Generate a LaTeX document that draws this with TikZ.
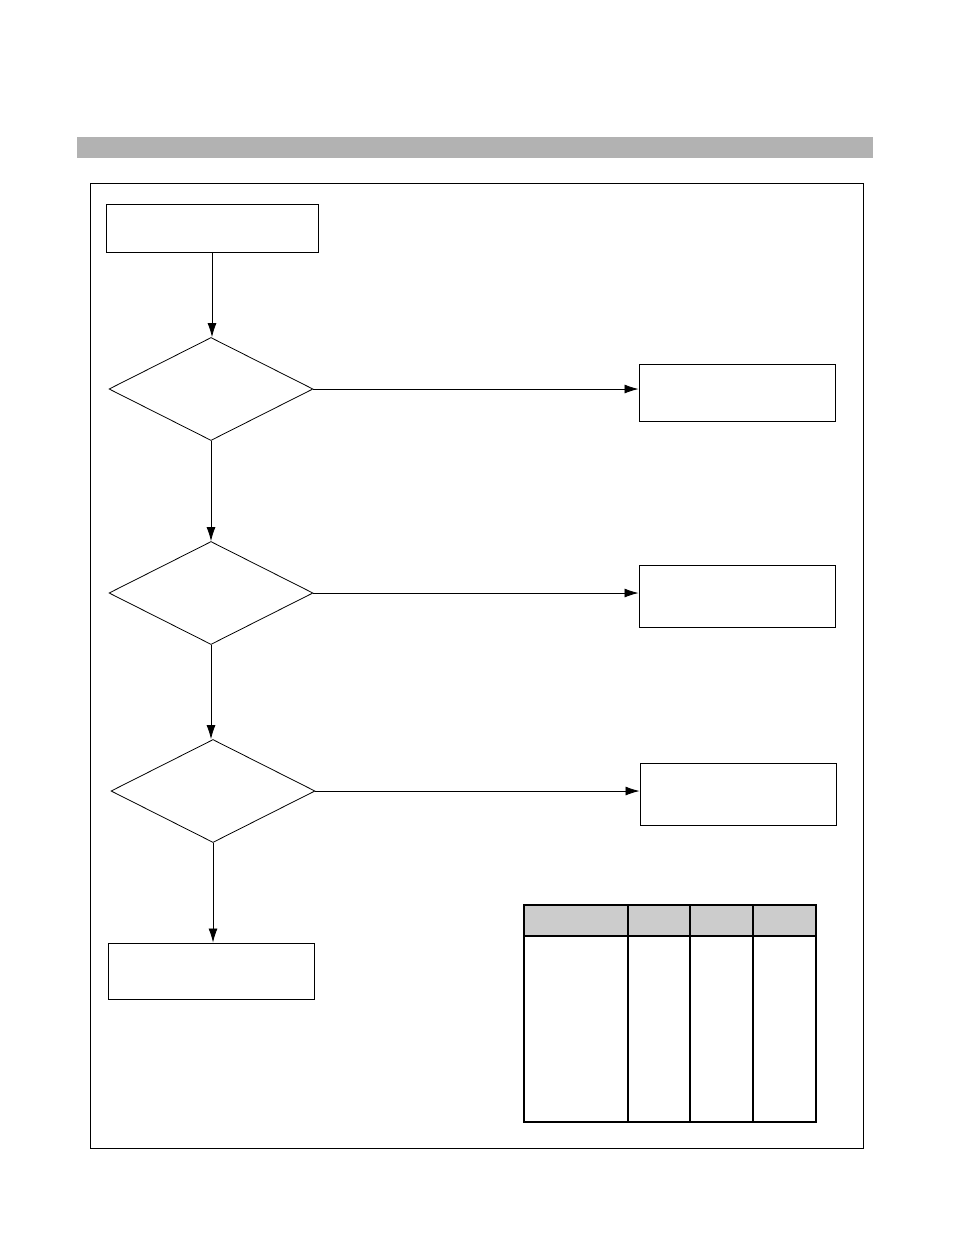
\documentclass[tikz,border=0pt]{standalone}
\usepackage{tikz}
\usetikzlibrary{shapes.geometric,arrows.meta}
\def\pxu{0.0265cm}
\tikzset{
	box/.style={draw, rectangle, inner sep=0pt, line width=0.75pt},
	check/.style={draw, diamond, inner sep=0pt, line width=0.6pt, minimum width=204*\pxu, minimum height=103*\pxu},
	flow/.style={line width=0.6pt, -{Latex[length=14*\pxu, width=9*\pxu]}}
}
\begin{document}
\begin{tikzpicture}[x=0.0265cm, y=-0.0265cm]
			%%%%% START %%%%%
			
			\useasboundingbox (0, 0) rectangle (954, 1235);
			
			\fill[black!30] (77, 137) rectangle (873, 158);
			\draw[line width=0.7pt] (90, 183) rectangle (863, 1148);
			
			\node[box, minimum width=212*\pxu, minimum height=48*\pxu] (start) at (212, 228) {};
			
			\node[check] (d1) at (211, 389) {};
			\node[check] (d2) at (211, 593) {};
			\node[check] (d3) at (213, 791) {};
			
			\node[box, minimum width=196*\pxu, minimum height=57*\pxu] (r1) at (737, 392.5) {};
			\node[box, minimum width=196*\pxu, minimum height=62*\pxu] (r2) at (737, 596) {};
			\node[box, minimum width=196*\pxu, minimum height=62*\pxu] (r3) at (738, 794) {};
			
			\node[box, minimum width=206*\pxu, minimum height=56*\pxu] (stop) at (211, 971) {};
			
			\draw[flow] (start.south) -- (start.south |- d1.north);
			\draw[flow] (d1.south) -- (d2.north);
			\draw[flow] (d2.south) -- (d2.south |- d3.north);
			\draw[flow] (d3.south) -- (d3.south |- stop.north);
			
			\draw[flow] (d1.east) -- (d1.east -| r1.west);
			\draw[flow] (d2.east) -- (d2.east -| r2.west);
			\draw[flow] (d3.east) -- (d3.east -| r3.west);
			
			% table
			\fill[black!20] (524, 905) rectangle (816, 936);
			\draw[line width=0.9pt] (524, 905) rectangle (816, 1122);
			\draw[line width=0.9pt] (524, 936) -- (816, 936);
			\foreach \x in {628, 690, 753}
				\draw[line width=0.9pt] (\x, 905) -- (\x, 1122);
			
			%%%%% END %%%%%
\end{tikzpicture}
\end{document}
